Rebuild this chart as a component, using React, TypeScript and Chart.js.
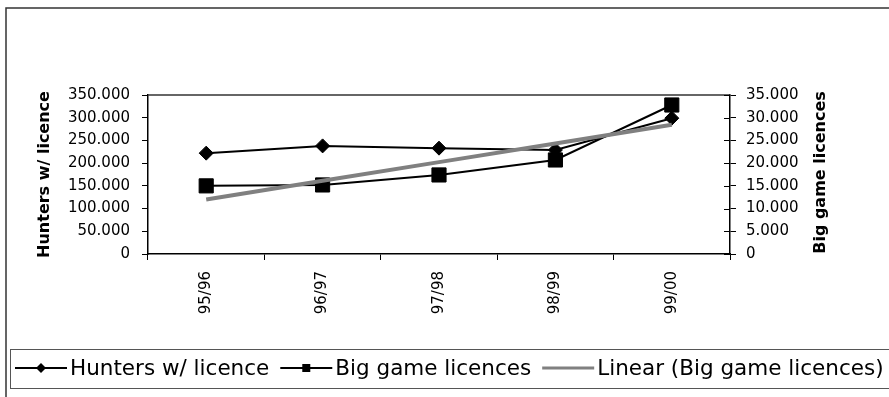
import React, { useEffect, useRef } from 'react';
import { Chart, registerables } from 'chart.js';

Chart.register(...registerables);

// Hunting seasons and licence counts
const seasons = ['95/96', '96/97', '97/98', '98/99', '99/00'];
const huntersWithLicence = [222000, 238000, 233000, 229000, 299000];
const bigGameLicences = [15000, 15200, 17400, 20700, 32800];

// Axis ranges
const huntersAxis = { min: 0, max: 350000, step: 50000 };
const licenceAxis = { min: 0, max: 35000, step: 5000 };

const FONT = "'DejaVu Sans', sans-serif";

// Least-squares trend line through the big game licence counts
function linearTrend(values: number[]): number[] {
  const n = values.length;
  const xs = values.map((_, i) => i);
  const mx = xs.reduce((a, b) => a + b, 0) / n;
  const my = values.reduce((a, b) => a + b, 0) / n;
  let num = 0;
  let den = 0;
  xs.forEach((x, i) => {
    num += (x - mx) * (values[i] - my);
    den += (x - mx) * (x - mx);
  });
  const slope = num / den;
  return xs.map((x) => my + slope * (x - mx));
}

// 350000 -> "350.000"
function dotThousands(v: number | string): string {
  const n = Math.round(Number(v));
  return String(n).replace(/\B(?=(\d{3})+(?!\d))/g, '.');
}

const framePlugin = {
  id: 'sheetFrame',
  beforeDraw(chart: any) {
    const { ctx, width, height } = chart;
    ctx.save();
    ctx.fillStyle = '#ffffff';
    ctx.fillRect(0, 0, width, height);
    ctx.strokeStyle = '#333333';
    ctx.lineWidth = 1.5;
    ctx.strokeRect(6, 8, width + 20, height + 20);
    ctx.restore();
  },
  afterDraw(chart: any) {
    const { ctx, chartArea } = chart;
    const { left, right, top, bottom } = chartArea;
    ctx.save();
    // plot area top edge
    ctx.strokeStyle = '#333333';
    ctx.lineWidth = 1.5;
    ctx.beginPath();
    ctx.moveTo(left, top);
    ctx.lineTo(right, top);
    ctx.stroke();

    // inner half of the crossing ticks on the right axis
    const yR = chart.scales.yLicences;
    ctx.strokeStyle = '#000000';
    ctx.lineWidth = 1;
    yR.ticks.forEach((t: any) => {
      const y = Math.round(yR.getPixelForValue(t.value)) + 0.5;
      ctx.beginPath();
      ctx.moveTo(right - 6, y);
      ctx.lineTo(right, y);
      ctx.stroke();
    });

    // right axis title, reading bottom to top
    ctx.fillStyle = '#000000';
    ctx.font = `bold 16px ${FONT}`;
    ctx.textAlign = 'center';
    ctx.textBaseline = 'middle';
    ctx.translate(821, (top + bottom) / 2 - 2);
    ctx.rotate(-Math.PI / 2);
    ctx.fillText('Big game licences', 0, 0);
    ctx.restore();

    // boxed legend along the bottom
    ctx.save();
    ctx.strokeStyle = '#555555';
    ctx.lineWidth = 1;
    ctx.strokeRect(10.5, 349.5, 900, 39);
    ctx.font = `21.5px ${FONT}`;
    ctx.textBaseline = 'middle';
    ctx.textAlign = 'left';
    const y = 368;
    let x = 15;
    chart.data.datasets.forEach((ds: any) => {
      const isTrend = ds.pointStyle === false;
      ctx.strokeStyle = ds.borderColor;
      ctx.lineWidth = isTrend ? 3 : 2;
      ctx.beginPath();
      ctx.moveTo(x, y);
      ctx.lineTo(x + 52, y);
      ctx.stroke();
      const cx = x + 26;
      ctx.fillStyle = '#000000';
      if (ds.pointStyle === 'rectRot') {
        ctx.beginPath();
        ctx.moveTo(cx, y - 5);
        ctx.lineTo(cx + 5, y);
        ctx.lineTo(cx, y + 5);
        ctx.lineTo(cx - 5, y);
        ctx.closePath();
        ctx.fill();
      } else if (ds.pointStyle === 'rect') {
        ctx.fillRect(cx - 4, y - 4, 8, 8);
      }
      x += 55;
      ctx.fillStyle = '#000000';
      ctx.fillText(ds.label, x, y + 1);
      x += ctx.measureText(ds.label).width + 11;
    });
    ctx.restore();
  },
};

export default function App() {
  const canvasRef = useRef<HTMLCanvasElement | null>(null);

  useEffect(() => {
    const canvas = canvasRef.current;
    if (!canvas) return;
    const trend = linearTrend(bigGameLicences);

    const chart = new Chart(canvas, {
      type: 'line',
      data: {
        labels: seasons,
        datasets: [
          {
            label: 'Hunters w/ licence',
            data: huntersWithLicence,
            yAxisID: 'yHunters',
            borderColor: '#000000',
            backgroundColor: '#000000',
            borderWidth: 2,
            pointStyle: 'rectRot',
            pointRadius: 7,
            pointBorderWidth: 1,
            tension: 0,
            order: 2,
          },
          {
            label: 'Big game licences',
            data: bigGameLicences,
            yAxisID: 'yLicences',
            borderColor: '#000000',
            backgroundColor: '#000000',
            borderWidth: 2,
            pointStyle: 'rect',
            pointRadius: 10,
            pointBorderWidth: 1,
            tension: 0,
            order: 1,
          },
          {
            label: 'Linear (Big game licences)',
            data: trend,
            yAxisID: 'yLicences',
            borderColor: '#808080',
            backgroundColor: '#808080',
            borderWidth: 4,
            pointStyle: false,
            pointRadius: 0,
            tension: 0,
            order: 0,
          },
        ],
      },
      options: {
        animation: false,
        responsive: false,
        devicePixelRatio: 1,
        layout: { padding: { top: 95, left: 0, right: 0, bottom: 0 } },
        plugins: {
          legend: { display: false },
          tooltip: { enabled: false },
        },
        scales: {
          x: {
            type: 'category',
            offset: true,
            grid: {
              display: true,
              offset: true,
              drawOnChartArea: false,
              drawTicks: true,
              tickLength: 6,
              color: '#000000',
            },
            border: { display: true, color: '#000000', width: 1.5 },
            ticks: {
              color: '#000000',
              font: { family: FONT, size: 15 },
              minRotation: 90,
              maxRotation: 90,
              padding: 11,
            },
            afterFit(scale: any) {
              scale.height = 143;
            },
          },
          yHunters: {
            type: 'linear',
            position: 'left',
            min: huntersAxis.min,
            max: huntersAxis.max,
            grid: {
              drawOnChartArea: false,
              drawTicks: true,
              tickLength: 6,
              color: '#000000',
            },
            border: { display: true, color: '#000000', width: 1.5 },
            ticks: {
              stepSize: huntersAxis.step,
              color: '#000000',
              font: { family: FONT, size: 15 },
              padding: 12,
              callback: (v: any) => dotThousands(v),
            },
            title: {
              display: true,
              text: 'Hunters w/ licence',
              color: '#000000',
              font: { family: FONT, size: 16, weight: 'bold' },
              padding: { top: 35, bottom: 0 },
            },
            afterFit(scale: any) {
              scale.width = 148;
            },
          },
          yLicences: {
            type: 'linear',
            position: 'right',
            min: licenceAxis.min,
            max: licenceAxis.max,
            grid: {
              drawOnChartArea: false,
              drawTicks: true,
              tickLength: 6,
              color: '#000000',
            },
            border: { display: true, color: '#000000', width: 1.5 },
            ticks: {
              stepSize: licenceAxis.step,
              color: '#000000',
              font: { family: FONT, size: 15 },
              padding: 10,
              callback: (v: any) => dotThousands(v),
            },
            afterFit(scale: any) {
              scale.width = 159;
            },
          },
        },
      },
      plugins: [framePlugin],
    });

    return () => chart.destroy();
  }, []);

  return (
    <div style={{ position: 'fixed', left: 0, top: 0, width: 889, height: 397, background: '#fff' }}>
      <canvas ref={canvasRef} width={889} height={397} style={{ display: 'block' }} />
    </div>
  );
}
